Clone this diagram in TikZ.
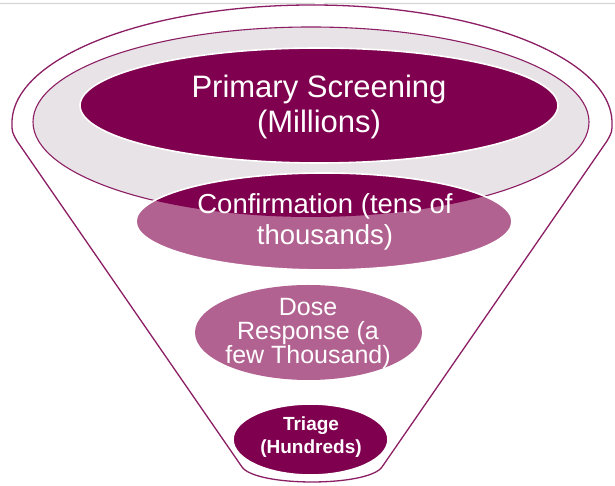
\documentclass[tikz,border=0pt]{standalone}
\usepackage{fontspec}
\setmainfont{Liberation Sans}
\definecolor{darkp}{RGB}{128,0,80}
\definecolor{pinkp}{RGB}{178,98,145}
\definecolor{grayp}{RGB}{232,227,230}
\definecolor{linep}{RGB}{140,30,100}
\definecolor{topgray}{RGB}{215,215,215}
\begin{document}
\begin{tikzpicture}[x=1pt,y=1pt,
  funnel/.style={draw=linep, line width=1.3pt, fill=white},
  grayring/.style={draw=linep, line width=1.1pt, fill=grayp},
  darkstage/.style={fill=darkp, draw=white, line width=1.6pt},
  pinkstage/.style={fill=pinkp},
  stagetext/.style={text=white, align=center, inner sep=0pt}]
\useasboundingbox (0,0) rectangle (615,486);
\fill[white] (0,0) rectangle (615,486);
% top border of screenshot
\draw[topgray, line width=1.2pt] (0,482.5) -- (314,482.5) -- (316,479.5) -- (323,479.5) -- (325,482.5) -- (615,482.5);
% funnel outline
\draw[funnel] (12,363) arc[start angle=180,end angle=0,x radius=300,y radius=118]
  .. controls (612,354) .. (607,345) -- (382,19)
  .. controls (368,-1) and (256,-1) .. (242,19) -- (17,345)
  .. controls (12,354) .. (12,363) -- cycle;
% inner gray rim
\draw[grayring] (311,364) ellipse [x radius=278, y radius=95];
% primary screening
\draw[darkstage] (319,380.5) ellipse [x radius=239, y radius=57.5];
% confirmation
\fill[pinkstage] (324,264.5) ellipse [x radius=188, y radius=48.5];
\begin{scope}
  \clip (324,264.5) ellipse [x radius=188, y radius=48.5];
  \fill[darkp] (311,364) ellipse [x radius=278, y radius=95];
\end{scope}
\draw[white, line width=1.6pt] (324,264.5) ellipse [x radius=188, y radius=48.5];
% dose response
\fill[pinkstage] (308.5,153.5) ellipse [x radius=113.5, y radius=47.5];
% triage
\draw[darkstage] (310.5,46.5) ellipse [x radius=77.5, y radius=35.5];
% texts
\node[stagetext, font=\fontsize{31}{35}\selectfont] (primary) at (319,379) {Primary Screening\\(Millions)};
\node[stagetext, font=\fontsize{27.5}{31}\selectfont] (confirm) at (325,264) {Confirmation (tens of\\thousands)};
\node[stagetext, font=\fontsize{25}{24}\selectfont] (dose) at (308,153) {Dose\\Response (a\\few Thousand)};
\node[stagetext, font=\bfseries\fontsize{19}{23}\selectfont] (triage) at (311,49) {Triage\\(Hundreds)};
\end{tikzpicture}
\end{document}
